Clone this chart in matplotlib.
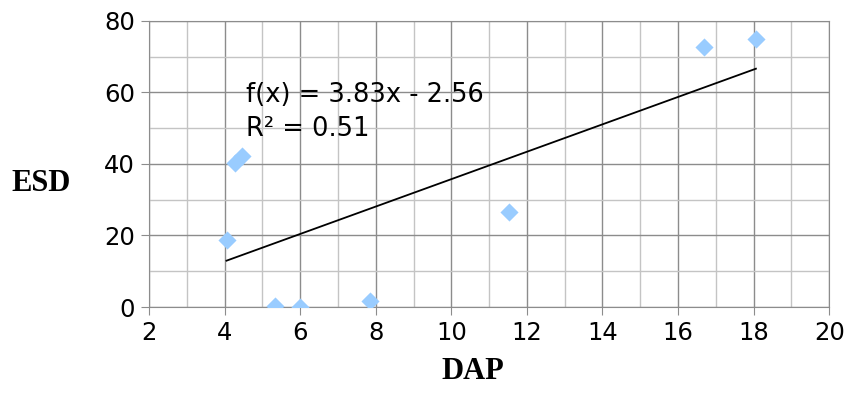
import matplotlib.pyplot as plt
import numpy as np

# Daten
dap = [4.05, 4.27, 4.46, 5.33, 5.99, 7.85, 11.52, 16.68, 18.06]
esd = [18.6, 40.3, 42.2, 0.3, 0.0, 1.6, 26.6, 72.8, 75.0]

slope = 3.83
intercept = -2.56
r2 = 0.51

fig = plt.figure(figsize=(8.47, 4.16), dpi=100)
ax = fig.add_axes([0.176, 0.262, 0.803, 0.688])

ax.set_xlim(2, 20)
ax.set_ylim(0, 80)
ax.set_xticks(np.arange(2, 21, 2))
ax.set_xticks(np.arange(2, 21, 1), minor=True)
ax.set_yticks(np.arange(0, 81, 20))
ax.set_yticks(np.arange(0, 81, 10), minor=True)

ax.grid(which='minor', color='#c4c4c4', linewidth=1.0, zorder=0)
ax.grid(which='major', color='#8c8c8c', linewidth=1.0, zorder=0)

for s in ax.spines.values():
    s.set_color('#8c8c8c')
ax.tick_params(which='major', length=6, color='#8c8c8c', labelsize=17.5, pad=4)
ax.tick_params(which='minor', length=0)

ax.scatter(dap, esd, marker='D', s=85, color='#99ccff', zorder=3, linewidths=0)

# Trendlinie
xt = np.array([min(dap), max(dap)])
ax.plot(xt, slope * xt + intercept, color='black', linewidth=1.3, zorder=4)

ax.text(4.57, 62.8, "f(x) = 3.83x - 2.56\nR² = 0.51", fontsize=18.5, linespacing=1.4,
        va='top', zorder=5)

fig.text(0.048, 0.56, "ESD", fontsize=22, fontweight='bold', family='Liberation Serif', ha='center', va='center')
fig.text(0.558, 0.108, "DAP", fontsize=22, fontweight='bold', family='Liberation Serif', ha='center', va='center')

fig.savefig("out.png", dpi=100)
